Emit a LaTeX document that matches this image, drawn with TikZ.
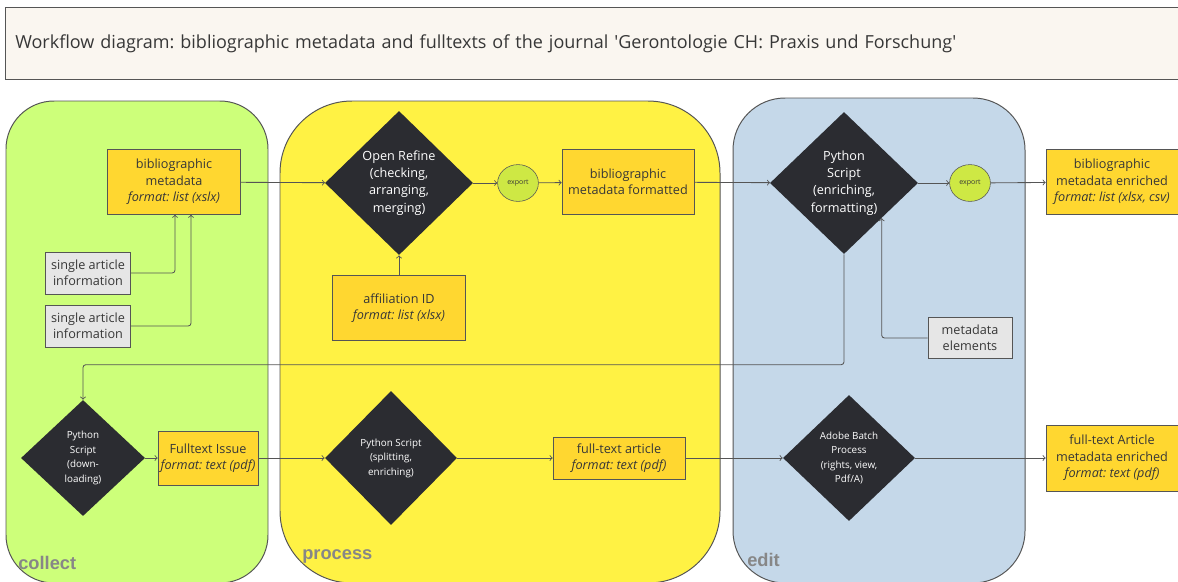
\documentclass[tikz,border=0pt]{standalone}
\usepackage{fontspec}
\setmainfont{Open Sans}
\newfontfamily\lanefont{Liberation Sans}
\usetikzlibrary{shapes, arrows, positioning, calc, backgrounds}
\frenchspacing

\definecolor{lanegreen}{RGB}{205,255,122}
\definecolor{laneyellow}{RGB}{255,242,68}
\definecolor{laneblue}{RGB}{197,216,233}
\definecolor{boxgold}{RGB}{255,215,48}
\definecolor{boxgray}{RGB}{230,230,230}
\definecolor{tooldark}{RGB}{43,44,49}
\definecolor{exportgreen}{RGB}{206,232,68}
\definecolor{titlefill}{RGB}{250,246,240}
\definecolor{linegray}{RGB}{85,85,85}
\definecolor{textdark}{RGB}{55,55,55}
\definecolor{lanetext}{RGB}{135,135,135}

\tikzset{
  lane/.style={draw=linegray, line width=0.7pt},
  lanelabel/.style={anchor=base west, inner sep=0pt, text=lanetext, font=\lanefont\bfseries\fontsize{13}{13}\selectfont},
  databox/.style={rectangle, draw=linegray, fill=boxgold, text=textdark, align=center,
    inner sep=1pt, font=\fontsize{9}{11.7}\selectfont},
  infobox/.style={databox, fill=boxgray},
  tool/.style={diamond, fill=tooldark, text=white, align=center, inner sep=0pt,
    font=\fontsize{9}{12.3}\selectfont},
  smalltool/.style={tool, font=\fontsize{7}{10.3}\selectfont},
  export/.style={ellipse, draw=linegray, fill=exportgreen, text=textdark, inner sep=0pt,
    minimum width=1.02cm, minimum height=0.92cm, font=\fontsize{5}{6}\selectfont},
  flow/.style={->, draw=linegray, line width=0.6pt, rounded corners=2pt}
}

\begin{document}
\begin{tikzpicture}[x=0.025cm, y=-0.025cm]
  \useasboundingbox (0,0) rectangle (1178,581);

  % title
  \node[draw=linegray, fill=titlefill, anchor=north west, minimum width=29.5cm, minimum height=1.8cm,
    text width=29cm, align=left, inner xsep=0.2cm, text=textdark,
    font=\fontsize{12.8}{15}\selectfont] (title) at (5,7)
    {Workflow diagram: bibliographic metadata and fulltexts of the journal \textquotesingle Gerontologie CH: Praxis und Forschung\textquotesingle};

  % lanes
  \draw[lane, fill=lanegreen, rounded corners=1.2cm] (6,101) rectangle (268,583);
  \draw[lane, fill=laneyellow, rounded corners=1.8cm] (280,101) rectangle (720,583);
  \draw[lane, fill=laneblue, rounded corners=1.3cm] (733,98) rectangle (1025,583);
  \node[lanelabel] (collect) at (18,569) {collect};
  \node[lanelabel] (process) at (302,559) {process};
  \node[lanelabel] (edit) at (747,566) {edit};

  % metadata row
  \node[databox, minimum width=3.32cm, minimum height=1.62cm] (bm) at (174,182)
    {bibliographic\\metadata\\\textit{format: list (xslx)}};
  \node[infobox, minimum width=2.12cm, minimum height=1.05cm] (sai1) at (88,273)
    {single article\\information};
  \node[infobox, minimum width=2.12cm, minimum height=1.05cm] (sai2) at (88,326)
    {single article\\information};
  \node[tool, minimum width=3.7cm, minimum height=3.6cm] (refine) at (399,183)
    {Open Refine\\(checking,\\arranging,\\merging)};
  \node[export] (exp1) at (518,183) {export};
  \node[databox, minimum width=3.3cm, minimum height=1.62cm] (bmf) at (628,182)
    {bibliographic\\metadata formatted};
  \node[databox, minimum width=3.32cm, minimum height=1.62cm] (affil) at (399,308)
    {affiliation ID\\\textit{format: list (xlsx)}};
  \node[tool, minimum width=3.7cm, minimum height=3.55cm] (enrich) at (844,183)
    {Python\\Script\\(enriching,\\formatting)};
  \node[export] (exp2) at (970,183) {export};
  \node[databox, minimum width=3.3cm, minimum height=1.62cm] (bme) at (1112,182)
    {bibliographic\\metadata enriched\\\textit{format: list (xlsx, csv)}};
  \node[infobox, minimum width=2.1cm, minimum height=1.03cm] (elements) at (970,338)
    {metadata\\elements};

  % fulltext row
  \node[smalltool, minimum width=3.1cm, minimum height=2.9cm] (download) at (83,458)
    {Python\\Script\\(down-\\loading)};
  \node[databox, minimum width=2.5cm, minimum height=1.35cm] (issue) at (208,458)
    {Fulltext Issue\\\textit{format: text (pdf)}};
  \node[smalltool, minimum width=3.3cm, minimum height=3.35cm] (split) at (391,458)
    {Python Script\\(splitting,\\enriching)};
  \node[databox, minimum width=3.3cm, minimum height=1.05cm] (fta) at (619,458)
    {full-text article\\\textit{format: text (pdf)}};
  \node[smalltool, minimum width=3.3cm, minimum height=3.15cm] (adobe) at (849,458)
    {Adobe Batch\\Process\\(rights, view,\\Pdf/A)};
  \node[databox, minimum width=3.3cm, minimum height=1.65cm] (ftae) at (1112,458)
    {full-text Article\\metadata enriched\\\textit{format: text (pdf)}};

  % connectors
  \draw[flow] (bm) -- (refine);
  \draw[flow] (refine) -- (exp1);
  \draw[flow] (exp1) -- (bmf);
  \draw[flow] (bmf) -- (enrich);
  \draw[flow] (enrich) -- (exp2);
  \draw[flow] (exp2) -- (bme);
  \draw[flow] (sai1.east) -| ($(bm.south)+(1,0)$);
  \draw[flow] (sai2.east) -| ($(bm.south)+(17,0)$);
  \draw[flow] (affil) -- (refine);
  \draw[flow] (elements.west) -| (enrich.-43);
  \draw[flow] (enrich.south) |- ($(download.north)+(0,-35)$) -- (download.north);
  \draw[flow] (download) -- (issue);
  \draw[flow] (issue) -- (split);
  \draw[flow] (split) -- (fta);
  \draw[flow] (fta) -- (adobe);
  \draw[flow] (adobe) -- (ftae);
\end{tikzpicture}
\end{document}
